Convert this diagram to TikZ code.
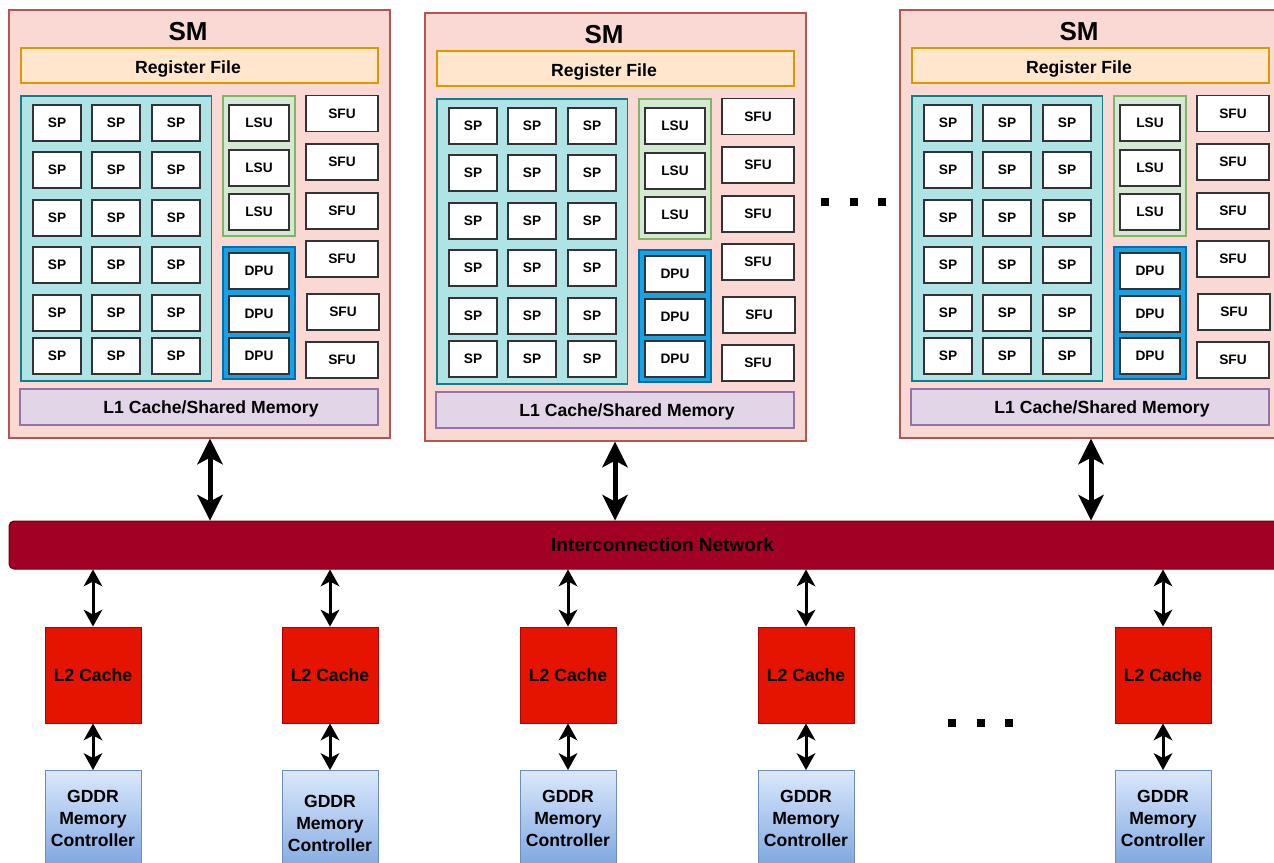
\documentclass[tikz,border=0pt]{standalone}
\usepackage{fontspec}
\setmainfont{Liberation Sans}
\usetikzlibrary{arrows.meta,positioning}
\definecolor{gpuSmFill}{HTML}{FAD9D5}
\definecolor{gpuSmLine}{HTML}{B85450}
\definecolor{gpuRegFill}{HTML}{FFE6CC}
\definecolor{gpuRegLine}{HTML}{D79B00}
\definecolor{gpuSpFill}{HTML}{B0E3E6}
\definecolor{gpuSpLine}{HTML}{0E8088}
\definecolor{gpuLsuFill}{HTML}{D5E8D4}
\definecolor{gpuLsuLine}{HTML}{82B366}
\definecolor{gpuDpuFill}{HTML}{1BA1E2}
\definecolor{gpuDpuLine}{HTML}{006EAF}
\definecolor{gpuLoneFill}{HTML}{E1D5E7}
\definecolor{gpuLoneLine}{HTML}{9673A6}
\definecolor{gpuNetFill}{HTML}{A20025}
\definecolor{gpuNetLine}{HTML}{6F0000}
\definecolor{gpuLtwoFill}{HTML}{E51400}
\definecolor{gpuLtwoLine}{HTML}{B20000}
\definecolor{gpuMemTop}{HTML}{DAE8FC}
\definecolor{gpuMemBottom}{HTML}{7EA6E0}
\definecolor{gpuMemLine}{HTML}{6C8EBF}
\definecolor{gpuUnitLine}{HTML}{333333}
\newcommand\gpuUnitFont{\fontsize{13.7}{16}\selectfont\bfseries}
\newcommand\gpuMidFont{\fontsize{17.6}{22}\selectfont\bfseries}
\newcommand\gpuNetFont{\fontsize{19}{22}\selectfont\bfseries}
\newcommand\gpuTitleFont{\fontsize{26}{30}\selectfont\bfseries}
\tikzset{
  gpu diagram/.style={x=1pt, y=-1pt, text=black, line join=miter},
  gpu size/.style 2 args={minimum width=#1pt, minimum height=#2pt},
  gpu sm/.style={draw=gpuSmLine, fill=gpuSmFill, line width=1.3pt, inner sep=0pt},
  gpu reg/.style={draw=gpuRegLine, fill=gpuRegFill, line width=1.3pt, inner sep=0pt},
  gpu sp group/.style={draw=gpuSpLine, fill=gpuSpFill, line width=1.3pt, inner sep=0pt},
  gpu lsu group/.style={draw=gpuLsuLine, fill=gpuLsuFill, line width=1.3pt, inner sep=0pt},
  gpu dpu group/.style={draw=gpuDpuLine, fill=gpuDpuFill, line width=1.3pt, inner sep=0pt},
  gpu l1/.style={draw=gpuLoneLine, fill=gpuLoneFill, line width=1.3pt, inner sep=0pt},
  gpu unit/.style={draw=gpuUnitLine, fill=white, line width=1.5pt, inner sep=0pt, font=\gpuUnitFont},
  gpu net/.style={draw=gpuNetLine, fill=gpuNetFill, line width=1pt, rounded corners=5pt,
    inner sep=0pt, font=\gpuNetFont},
  gpu l2/.style={draw=gpuLtwoLine, fill=gpuLtwoFill, line width=1pt, inner sep=0pt,
    gpu size={96}{96}, font=\gpuMidFont},
  gpu mem/.style={draw=gpuMemLine, top color=gpuMemTop, bottom color=gpuMemBottom,
    line width=1pt, inner sep=0pt, minimum width=96pt, align=center, font=\gpuMidFont},
  gpu bus/.style={line width=5pt,
    {Stealth[length=26pt,width=26pt,inset=7pt,line width=0pt]}-{Stealth[length=26pt,width=26pt,inset=7pt,line width=0pt]}},
  gpu link/.style={line width=3pt,
    {Stealth[length=17pt,width=19pt,inset=5pt,line width=0pt]}-{Stealth[length=17pt,width=19pt,inset=5pt,line width=0pt]}},
  gpu dot/.style={fill=black, minimum size=8pt, inner sep=0pt}
}
\begin{document}
\begin{tikzpicture}[gpu diagram]
\useasboundingbox (0,0) rectangle (1274,862);
\clip (0,0) rectangle (1274,862);
\foreach \s/\dx/\dy/\ax in {1/0/0/210,2/416/3/199,3/891/0/200}{
\begin{scope}[shift={(\dx,\dy)}]
\node[gpu sm,gpu size={381}{428}] (sm\s) at (199.5,224) {};
\node[font=\gpuTitleFont] (sm\s-title) at (188,31.5) {SM};
\node[gpu reg,gpu size={357}{35},label={[font=\gpuMidFont,xshift=-11.5pt,yshift=-3pt]center:Register File}] (sm\s-reg) at (199.5,65.5) {};
\node[gpu sp group,gpu size={190.7}{285}] (sm\s-spg) at (116.3,238.5) {};
\foreach \r/\y in {1/123,2/170,3/218,4/265,5/313,6/356}
  \foreach \c/\x in {1/57,2/116,3/176}
    \node[gpu unit,gpu size={48}{36}] (sm\s-sp-\r-\c) at (\x,\y) {SP};
\node[gpu lsu group,gpu size={72}{140}] (sm\s-lsug) at (259,166) {};
\foreach \k/\y in {1/123,2/168,3/212}
  \node[gpu unit,gpu size={60}{36}] (sm\s-lsu-\k) at (259,\y) {LSU};
\node[gpu dpu group,gpu size={72}{132}] (sm\s-dpug) at (259,313) {};
\foreach \k/\y in {1/271,2/314,3/356}
  \node[gpu unit,gpu size={60}{36}] (sm\s-dpu-\k) at (259,\y) {DPU};
\foreach \k/\x/\y in {1/342/113.5,2/342/162,3/342/211,4/342/259,5/343/312,6/342/360}
  \node[gpu unit,gpu size={72}{36}] (sm\s-sfu-\k) at (\x,\y) {SFU};
\node[gpu l1,gpu size={358}{36},label={[font=\gpuMidFont,xshift=12pt,yshift=-1.5pt]center:L1 Cache/Shared Memory}] (sm\s-l1) at (199,407) {};
\coordinate (sm\s-port) at (\ax,480);
\end{scope}
}
\node[gpu net,gpu size={1307}{48}] (net) at (662.5,545) {Interconnection Network};
\foreach \s in {1,2,3}
  \draw[gpu bus] (sm\s.south -| sm\s-port) -- (net.north -| sm\s-port);
\foreach \k/\x/\h in {1/93/96,2/330/106,3/568/96,4/806/96,5/1163/96}{
  \node[gpu l2] (l2-\k) at (\x,675) {L2 Cache};
  \node[gpu mem,minimum height=\h pt,anchor=north] (mem-\k) at (\x,770) {GDDR\\Memory\\Controller};
  \draw[gpu link] (net.south -| l2-\k) -- (l2-\k);
  \draw[gpu link] (l2-\k) -- (mem-\k);
}
\foreach \x [count=\k] in {825,853.5,882}
  \node[gpu dot] (sm-dot-\k) at (\x,201.5) {};
\foreach \x [count=\k] in {952,980.5,1009}
  \node[gpu dot] (mem-dot-\k) at (\x,723) {};
\end{tikzpicture}
\end{document}
